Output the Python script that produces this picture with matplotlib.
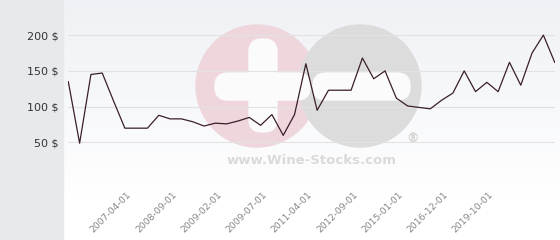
import numpy as np
import matplotlib
matplotlib.use('Agg')
import matplotlib.pyplot as plt
import matplotlib.transforms as mtransforms
from matplotlib.patches import Rectangle, Circle, FancyBboxPatch

# price series (evenly spaced observations)
prices = [135, 49, 145, 147, 108, 70, 70, 70, 88, 83, 83, 79, 73, 77, 76, 80,
          85, 74, 89, 60, 89, 160, 95, 123, 123, 123, 168, 139, 150, 112, 101,
          99, 97, 109, 119, 150, 121, 134, 121, 162, 130, 175, 200, 162]
tick_pos = [5, 9, 13, 17, 21, 25, 29, 33, 37]
tick_labels = ['2007-04-01', '2008-09-01', '2009-02-01', '2009-07-01', '2011-04-01',
               '2012-09-01', '2015-01-01', '2016-12-01', '2019-10-01']
y_ticks = [0, 50, 100, 150, 200]
y_labels = ['', '50 $', '100 $', '150 $', '200 $']

W, H = 560, 240
fig = plt.figure(figsize=(W / 100, H / 100), dpi=100)
fig.patch.set_facecolor('white')

# background layer in pixel coordinates
bg = fig.add_axes([0, 0, 1, 1])
bg.set_xlim(0, W)
bg.set_ylim(H, 0)
bg.axis('off')
grad = np.linspace(0, 1, 200).reshape(-1, 1)
top = np.array([0.937, 0.945, 0.961])
bottom = np.array([1.0, 1.0, 1.0])
img = top + (bottom - top) * grad[..., None]
img = np.concatenate([img, np.ones((40, 1, 3))], axis=0)
bg.imshow(img, extent=(63, W, H, 0), aspect='auto', zorder=0)
bg.add_patch(Rectangle((0, 0), 63, H, color='#e6eaed', zorder=1))

# watermark
bg.add_patch(Circle((257, 86), 61, color='#eed6dc', zorder=2))
bg.add_patch(Circle((360, 86), 61, color='#dcdcdd', zorder=3))
bg.add_patch(FancyBboxPatch((249, 39), 28, 93, boxstyle='round,pad=0,rounding_size=13',
                            color='#fbfbfc', zorder=4))
bg.add_patch(FancyBboxPatch((215, 73), 95, 27, boxstyle='round,pad=0,rounding_size=13',
                            color='#fbfbfc', zorder=4))
bg.add_patch(FancyBboxPatch((313, 73), 97, 27, boxstyle='round,pad=0,rounding_size=13',
                            color='#fbfbfc', zorder=4))
bg.text(312, 161, 'www.Wine-Stocks.com', ha='center', va='center', fontsize=9.5,
        fontweight='bold', color='#dadada', zorder=4)
bg.text(412, 139, '®', ha='center', va='center', fontsize=9, fontweight='bold',
        color='#d2d2d2', zorder=4)

# chart
ax = fig.add_axes([68.3 / W, 1 - 178.3 / H, (554.7 - 68.3) / W, 178.3 / H])
ax.patch.set_alpha(0)
x = np.arange(len(prices))
ax.plot(x, prices, color='#3a1f2b', lw=0.9, zorder=3)
ax.set_xlim(0, len(prices) - 1)
ax.set_ylim(0, 249)
ax.set_yticks(y_ticks)
ax.set_yticklabels(y_labels, fontsize=8, color='#333333')
ax.set_xticks(tick_pos)
ax.set_xticklabels(tick_labels, rotation=45, ha='right', va='center',
                   rotation_mode='anchor', fontsize=6.7, color='#858585')
ax.tick_params(axis='y', length=0, pad=7)
ax.tick_params(axis='x', length=0, pad=11)
shift = mtransforms.ScaledTranslation(0.05, 0, fig.dpi_scale_trans)
for lbl in ax.get_xticklabels():
    lbl.set_transform(lbl.get_transform() + shift)
ax.grid(axis='y', color='#e2e2e2', lw=0.8)
for s in ax.spines.values():
    s.set_visible(False)

plt.savefig('out.png', dpi=100)
